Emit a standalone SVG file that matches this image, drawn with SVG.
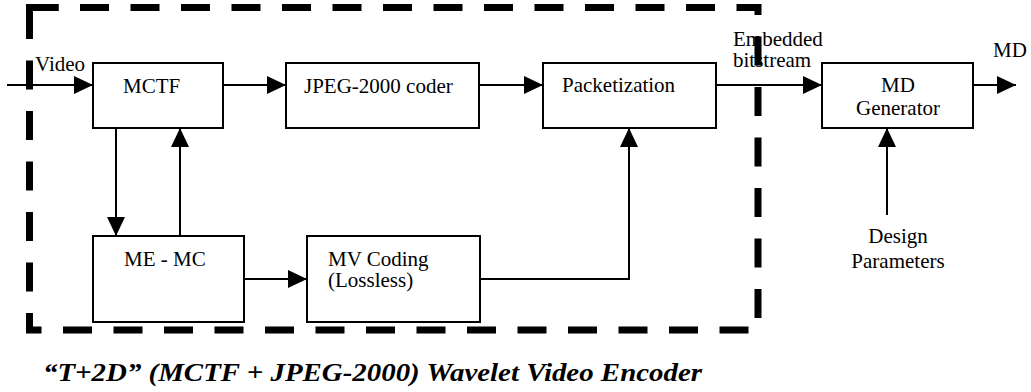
<svg xmlns="http://www.w3.org/2000/svg" width="1031" height="392" viewBox="0 0 1031 392">
<style>
.box{fill:#fff;stroke:#000;stroke-width:2}
.t{font-size:21px;fill:#000}
.c{text-anchor:middle}
.ln{fill:none;stroke:#000;stroke-width:2}
.dash{fill:none;stroke:#000;stroke-width:7;stroke-dasharray:29 21.5;stroke-linejoin:miter}
.cap{font-size:26px;font-weight:bold;font-style:italic;fill:#000}
</style>
<defs>
<marker id="ah" markerUnits="userSpaceOnUse" markerWidth="20" markerHeight="20" refX="19" refY="9" orient="auto">
<path d="M0,0 L19,9 L0,18 Z" fill="#000"/>
</marker>
</defs>
<rect width="1031" height="392" fill="#fff"/>
<g id="encoder-boundary">
<path class="dash" d="M29.5,7.5 H758 V330 H29.5 Z"/>
<path d="M29.5,36.5 V7.5 H58.5" fill="none" stroke="#000" stroke-width="7" stroke-linejoin="miter"/>
</g>
<g id="connectors">
<path class="ln" d="M7,85 H93" marker-end="url(#ah)"/>
<path class="ln" d="M223,85 H286" marker-end="url(#ah)"/>
<path class="ln" d="M479,85 H543" marker-end="url(#ah)"/>
<path class="ln" d="M716,85 H822" marker-end="url(#ah)"/>
<path class="ln" d="M973,85 H1016" marker-end="url(#ah)"/>
<path class="ln" d="M116,128 V236" marker-end="url(#ah)"/>
<path class="ln" d="M180,236 V128" marker-end="url(#ah)"/>
<path class="ln" d="M244,279 H307" marker-end="url(#ah)"/>
<path class="ln" d="M480,279 H629 V128" marker-end="url(#ah)"/>
<path class="ln" d="M887,215 V128" marker-end="url(#ah)"/>
</g>
<g font-family="'Liberation Serif', 'DejaVu Serif', serif">
<g id="mctf">
<rect class="box" x="93" y="63" width="130" height="65"/>
<text class="t" x="123" y="93">MCTF</text>
</g>
<g id="jpeg2000">
<rect class="box" x="286" y="63" width="193" height="65"/>
<text class="t" x="304" y="93">JPEG-2000 coder</text>
</g>
<g id="packetization">
<rect class="box" x="543" y="63" width="173" height="65"/>
<text class="t" x="562" y="92">Packetization</text>
</g>
<g id="md-generator">
<rect class="box" x="822" y="63" width="151" height="65"/>
<text class="t c" x="898" y="92">MD</text>
<text class="t c" x="898" y="115">Generator</text>
</g>
<g id="me-mc">
<rect class="box" x="93" y="236" width="151" height="86"/>
<text class="t" x="124" y="266">ME - MC</text>
</g>
<g id="mv-coding">
<rect class="box" x="307" y="236" width="173" height="86"/>
<text class="t" x="328" y="266">MV Coding</text>
<text class="t" x="328" y="287">(Lossless)</text>
</g>
<g id="labels">
<text class="t" x="35" y="71">Video</text>
<text class="t" x="733" y="46">Embedded</text>
<text class="t" x="733" y="67">bitstream</text>
<text class="t" x="993" y="57">MD</text>
<text class="t c" x="898" y="243">Design</text>
<text class="t c" x="898" y="268">Parameters</text>
<text class="cap" x="43" y="381" textLength="659" lengthAdjust="spacingAndGlyphs">“T+2D” (MCTF + JPEG-2000) Wavelet Video Encoder</text>
</g>
</g>
</svg>
